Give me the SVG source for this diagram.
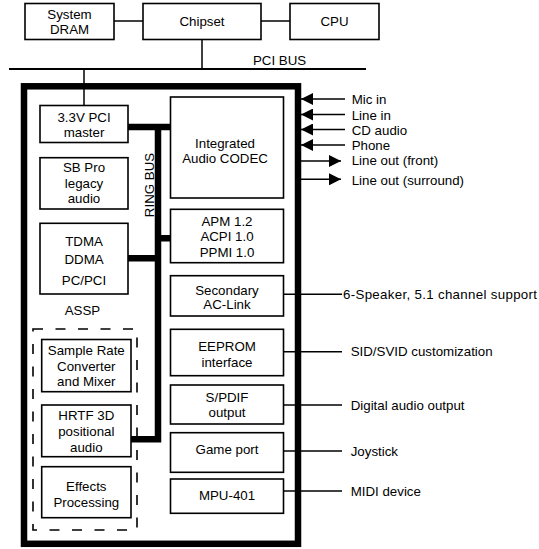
<svg xmlns="http://www.w3.org/2000/svg" width="539" height="549" viewBox="0 0 539 549">
<style>
text{font-family:"Liberation Sans",Arial,sans-serif;font-size:13.3px;fill:#000}
.c{text-anchor:middle}
.box{fill:#fff;stroke:#000;stroke-width:1.6}
.ln{stroke:#000;stroke-width:1.5;fill:none}
.bus{stroke:#000;stroke-width:2;fill:none}
.ring{stroke:#000;stroke-width:6.5;fill:none;stroke-linejoin:miter}
.outer{fill:none;stroke:#000;stroke-width:6.5}
.dash{fill:none;stroke:#000;stroke-width:1.6;stroke-dasharray:10 12.5}
</style>
<defs>
<marker id="ah" viewBox="0 0 12 12" refX="12" refY="6" markerWidth="12" markerHeight="12" markerUnits="userSpaceOnUse" orient="auto">
<path d="M0,0 L12,6 L0,12 z" fill="#000"/>
</marker>
</defs>
<rect x="0" y="0" width="539" height="549" fill="#fff"/>

<g id="connectors">
<line class="ln" x1="114" y1="21" x2="143" y2="21"/>
<line class="ln" x1="261" y1="21" x2="290" y2="21"/>
<line class="ln" x1="202" y1="39" x2="202" y2="69"/>
<line class="bus" x1="9" y1="69" x2="366" y2="69"/>
<line class="ln" x1="84" y1="69" x2="84" y2="105.5"/>
<path class="ring" d="M128 127 H170.5 M158 127 V439.3 H131 M128 258.3 H158 M158 238.3 H170.5"/>
<line class="ln" x1="345" y1="99" x2="301" y2="99" marker-end="url(#ah)"/>
<line class="ln" x1="345" y1="114.5" x2="301" y2="114.5" marker-end="url(#ah)"/>
<line class="ln" x1="345" y1="129.5" x2="301" y2="129.5" marker-end="url(#ah)"/>
<line class="ln" x1="345" y1="145" x2="301" y2="145" marker-end="url(#ah)"/>
<line class="ln" x1="301" y1="161" x2="341" y2="161" marker-end="url(#ah)"/>
<line class="ln" x1="301" y1="179.3" x2="341" y2="179.3" marker-end="url(#ah)"/>
<line class="ln" x1="283.5" y1="294.3" x2="342" y2="294.3"/>
<line class="ln" x1="283.5" y1="351.7" x2="342" y2="351.7"/>
<line class="ln" x1="283.5" y1="405" x2="342" y2="405"/>
<line class="ln" x1="283.5" y1="451" x2="342" y2="451"/>
<line class="ln" x1="283.5" y1="491" x2="342" y2="491"/>
</g>

<g id="assp-outline">
<rect class="outer" x="24" y="86.3" width="274" height="457.5"/>
<text class="c" x="82.5" y="314.5">ASSP</text>
<text x="0" y="0" class="c" transform="translate(154,185) rotate(-90)">RING BUS</text>
</g>

<g id="system-dram"><rect class="box" x="25" y="3.5" width="89" height="36"/><text class="c" x="69.5" y="18.5">System</text><text class="c" x="69.5" y="34">DRAM</text></g>
<g id="chipset"><rect class="box" x="143" y="3.5" width="118" height="36"/><text class="c" x="202" y="26.2">Chipset</text></g>
<g id="cpu"><rect class="box" x="290" y="3.5" width="89" height="36"/><text class="c" x="334.5" y="26.2">CPU</text></g>
<g id="pci-bus-label"><text x="253" y="64.5">PCI BUS</text></g>

<g id="pci-master"><rect class="box" x="40" y="105.5" width="88" height="37"/><text class="c" x="84" y="121.7">3.3V PCI</text><text class="c" x="84" y="136.7">master</text></g>
<g id="sb-pro"><rect class="box" x="40" y="157.7" width="88" height="51.3"/><text class="c" x="84" y="171.7">SB Pro</text><text class="c" x="84" y="187.5">legacy</text><text class="c" x="84" y="203.3">audio</text></g>
<g id="tdma"><rect class="box" x="40" y="223.3" width="88" height="70.7"/><text class="c" x="84" y="246">TDMA</text><text class="c" x="84" y="264.3">DDMA</text><text class="c" x="84" y="285">PC/PCI</text></g>

<g id="dsp-group"><rect class="dash" x="33" y="329" width="104" height="201"/></g>
<g id="src"><rect class="box" x="41.7" y="339.5" width="89.3" height="52.2"/><text class="c" x="86.3" y="354.5">Sample Rate</text><text class="c" x="86.3" y="370.5">Converter</text><text class="c" x="86.3" y="386.2">and Mixer</text></g>
<g id="hrtf"><rect class="box" x="41.7" y="405" width="89.3" height="51.7"/><text class="c" x="86.3" y="419.5">HRTF 3D</text><text class="c" x="86.3" y="435.5">positional</text><text class="c" x="86.3" y="451.8">audio</text></g>
<g id="effects"><rect class="box" x="41.7" y="466.7" width="89.3" height="51"/><text class="c" x="86.3" y="491.2">Effects</text><text class="c" x="86.3" y="507.2">Processing</text></g>

<g id="codec"><rect class="box" x="170.5" y="97" width="113" height="101"/><text class="c" x="225" y="148.3">Integrated</text><text class="c" x="225" y="162.7">Audio CODEC</text></g>
<g id="apm"><rect class="box" x="170.5" y="209.3" width="113" height="53.4"/><text class="c" x="227" y="226">APM 1.2</text><text class="c" x="227" y="240.7">ACPI 1.0</text><text class="c" x="227" y="256.7">PPMI 1.0</text></g>
<g id="ac-link"><rect class="box" x="170.5" y="275.7" width="113" height="40.3"/><text class="c" x="227" y="294.5">Secondary</text><text class="c" x="227" y="308.8">AC-Link</text></g>
<g id="eeprom"><rect class="box" x="170.5" y="329.3" width="113" height="46.4"/><text class="c" x="227" y="351.2">EEPROM</text><text class="c" x="227" y="366.5">interface</text></g>
<g id="spdif"><rect class="box" x="170.5" y="385" width="113" height="39"/><text class="c" x="227" y="402.2">S/PDIF</text><text class="c" x="227" y="417.3">output</text></g>
<g id="game-port"><rect class="box" x="170.5" y="432.7" width="113" height="39.6"/><text class="c" x="227" y="453.8">Game port</text></g>
<g id="mpu"><rect class="box" x="170.5" y="479" width="113" height="34.3"/><text class="c" x="227" y="499.5">MPU-401</text></g>

<g id="io-labels">
<text x="351.7" y="103.5">Mic in</text>
<text x="351.7" y="119.5">Line in</text>
<text x="351.7" y="134.5">CD audio</text>
<text x="351.7" y="150.2">Phone</text>
<text x="351.7" y="165.2">Line out (front)</text>
<text x="351.7" y="184.5">Line out (surround)</text>
<text x="343" y="298.8" textLength="194" lengthAdjust="spacing">6-Speaker, 5.1 channel support</text>
<text x="350.7" y="356.2">SID/SVID customization</text>
<text x="350.7" y="409.5">Digital audio output</text>
<text x="350.7" y="455.5">Joystick</text>
<text x="350.7" y="495.5">MIDI device</text>
</g>
</svg>
